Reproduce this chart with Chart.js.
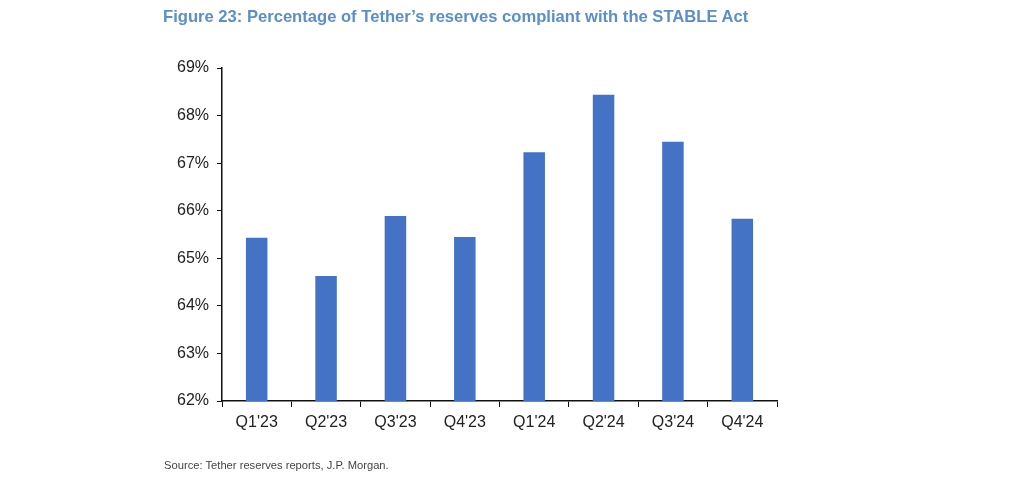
<!DOCTYPE html>
<html>
<head>
<meta charset="utf-8">
<script src="https://cdn.jsdelivr.net/npm/chart.js@4.4.1/dist/chart.umd.min.js"></script>
<style>
  html, body { margin: 0; padding: 0; background: #fff; }
  #wrap { position: relative; width: 1024px; height: 482px; }
  #title {
    position: absolute; left: 163px; top: 7px;
    font: bold 16.6px "Liberation Sans", Arial, sans-serif;
    color: #5a8fc9;
  }
  #source {
    position: absolute; left: 164px; top: 459px;
    font: 11.2px "Liberation Sans", Arial, sans-serif;
    color: #444;
  }
  canvas { position: absolute; left: 0; top: 0; }
</style>
</head>
<body>
<div id="wrap">
  <canvas id="chart" width="1024" height="482"></canvas>
  <div id="title">Figure 23: Percentage of Tether’s reserves compliant with the STABLE Act</div>
  <div id="source">Source: Tether reserves reports, J.P. Morgan.</div>
</div>
<script>
// Quarterly share of reserves compliant with the STABLE Act (%)
const quarters = ["Q1'23", "Q2'23", "Q3'23", "Q4'23", "Q1'24", "Q2'24", "Q3'24", "Q4'24"]
const compliantPct = [65.43, 64.63, 65.89, 65.45, 67.23, 68.44, 67.45, 65.83]
const yMin = 62
const yMax = 69

const barColor = "#4472c4"
const axisColor = "#111"
const font = "'Liberation Sans', Arial, sans-serif"

new Chart(document.getElementById("chart").getContext("2d"), {
  type: "bar",
  data: {
    labels: quarters,
    datasets: [{
      data: compliantPct,
      backgroundColor: barColor,
      categoryPercentage: 1,
      barPercentage: 0.31
    }]
  },
  options: {
    responsive: false,
    animation: false,
    layout: { padding: { left: 162, right: 247, top: 68, bottom: 41 } },
    plugins: { legend: { display: false }, tooltip: { enabled: false } },
    scales: {
      x: {
        grid: {
          offset: true,
          drawOnChartArea: false,
          drawTicks: true,
          tickLength: 6,
          color: axisColor
        },
        border: { color: axisColor, width: 1.5 },
        ticks: { color: "#222", font: { family: font, size: 16 }, padding: 6, maxRotation: 0 },
        afterFit: (s) => { s.height = 40 }
      },
      y: {
        min: yMin,
        max: yMax,
        grid: { drawOnChartArea: false, tickLength: 5, color: axisColor },
        border: { color: axisColor, width: 1.5 },
        ticks: {
          stepSize: 1,
          color: "#222",
          font: { family: font, size: 16 },
          padding: 8,
          callback: (v) => `${v}%`
        },
        afterFit: (s) => { s.width = 60 }
      }
    }
  }
})
</script>
</body>
</html>
